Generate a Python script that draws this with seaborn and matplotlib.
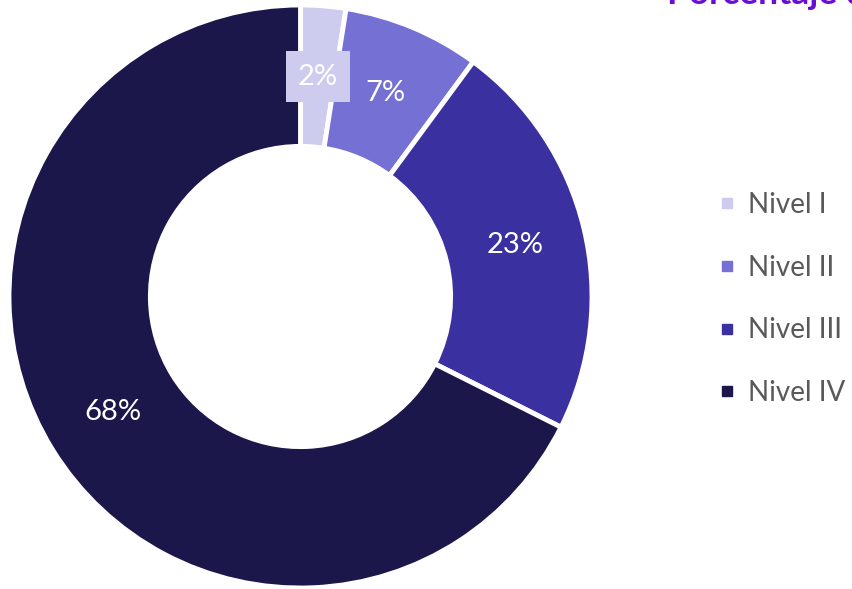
import matplotlib
matplotlib.use("Agg")
import matplotlib.pyplot as plt
import seaborn as sns
from matplotlib.lines import Line2D

categories = ["Nivel I", "Nivel II", "Nivel III", "Nivel IV"]
values = [2.5, 7.6, 22.3, 67.6]
pct_labels = ["2%", "7%", "23%", "68%"]
colors = ["#CDCBEE", "#7570D3", "#3A30A0", "#1C174B"]
title = "Porcentaje de estudiantes"

sns.set_theme(style="white")
plt.rcParams["font.family"] = ["Lato", "DejaVu Sans"]

W, H = 853, 589
fig = plt.figure(figsize=(W / 100, H / 100), dpi=100)
cx, cy, R = 300.5, 296.5, 291.5
ax = fig.add_axes([(cx - R) / W, (H - cy - R) / H, 2 * R / W, 2 * R / H])

wedges, texts, autotexts = ax.pie(
    values, colors=colors, startangle=90, counterclock=False, radius=1.0,
    wedgeprops=dict(width=0.485, edgecolor="white", linewidth=3.5),
    autopct="%1.0f%%", pctdistance=0.757,
    textprops=dict(color="white", fontsize=21),
)
for w in wedges:
    w.set_clip_on(False)
for t, lab in zip(autotexts, pct_labels):
    t.set_text(lab)
autotexts[0].set_bbox(dict(boxstyle="square,pad=0.42", facecolor=colors[0], edgecolor="none"))
ax.set_xlim(-1, 1)
ax.set_ylim(-1, 1)
ax.set_aspect("equal")
ax.axis("off")

fig.text(667 / W, 1 - 4 / H, title, color="#6A0DD6", fontsize=25.5, fontweight="bold",
         ha="left", va="baseline")

handles = [Line2D([], [], marker="s", linestyle="none", markersize=7.5,
                  markerfacecolor=c, markeredgecolor=c) for c in colors]
leg = fig.legend(handles, categories, loc="center left",
                 bbox_to_anchor=(694 / W, 1 - 299 / H), frameon=False,
                 fontsize=20, labelcolor="#595959", handlelength=0.55,
                 handletextpad=0.5, labelspacing=1.32)

fig.savefig("out.png", dpi=100)
